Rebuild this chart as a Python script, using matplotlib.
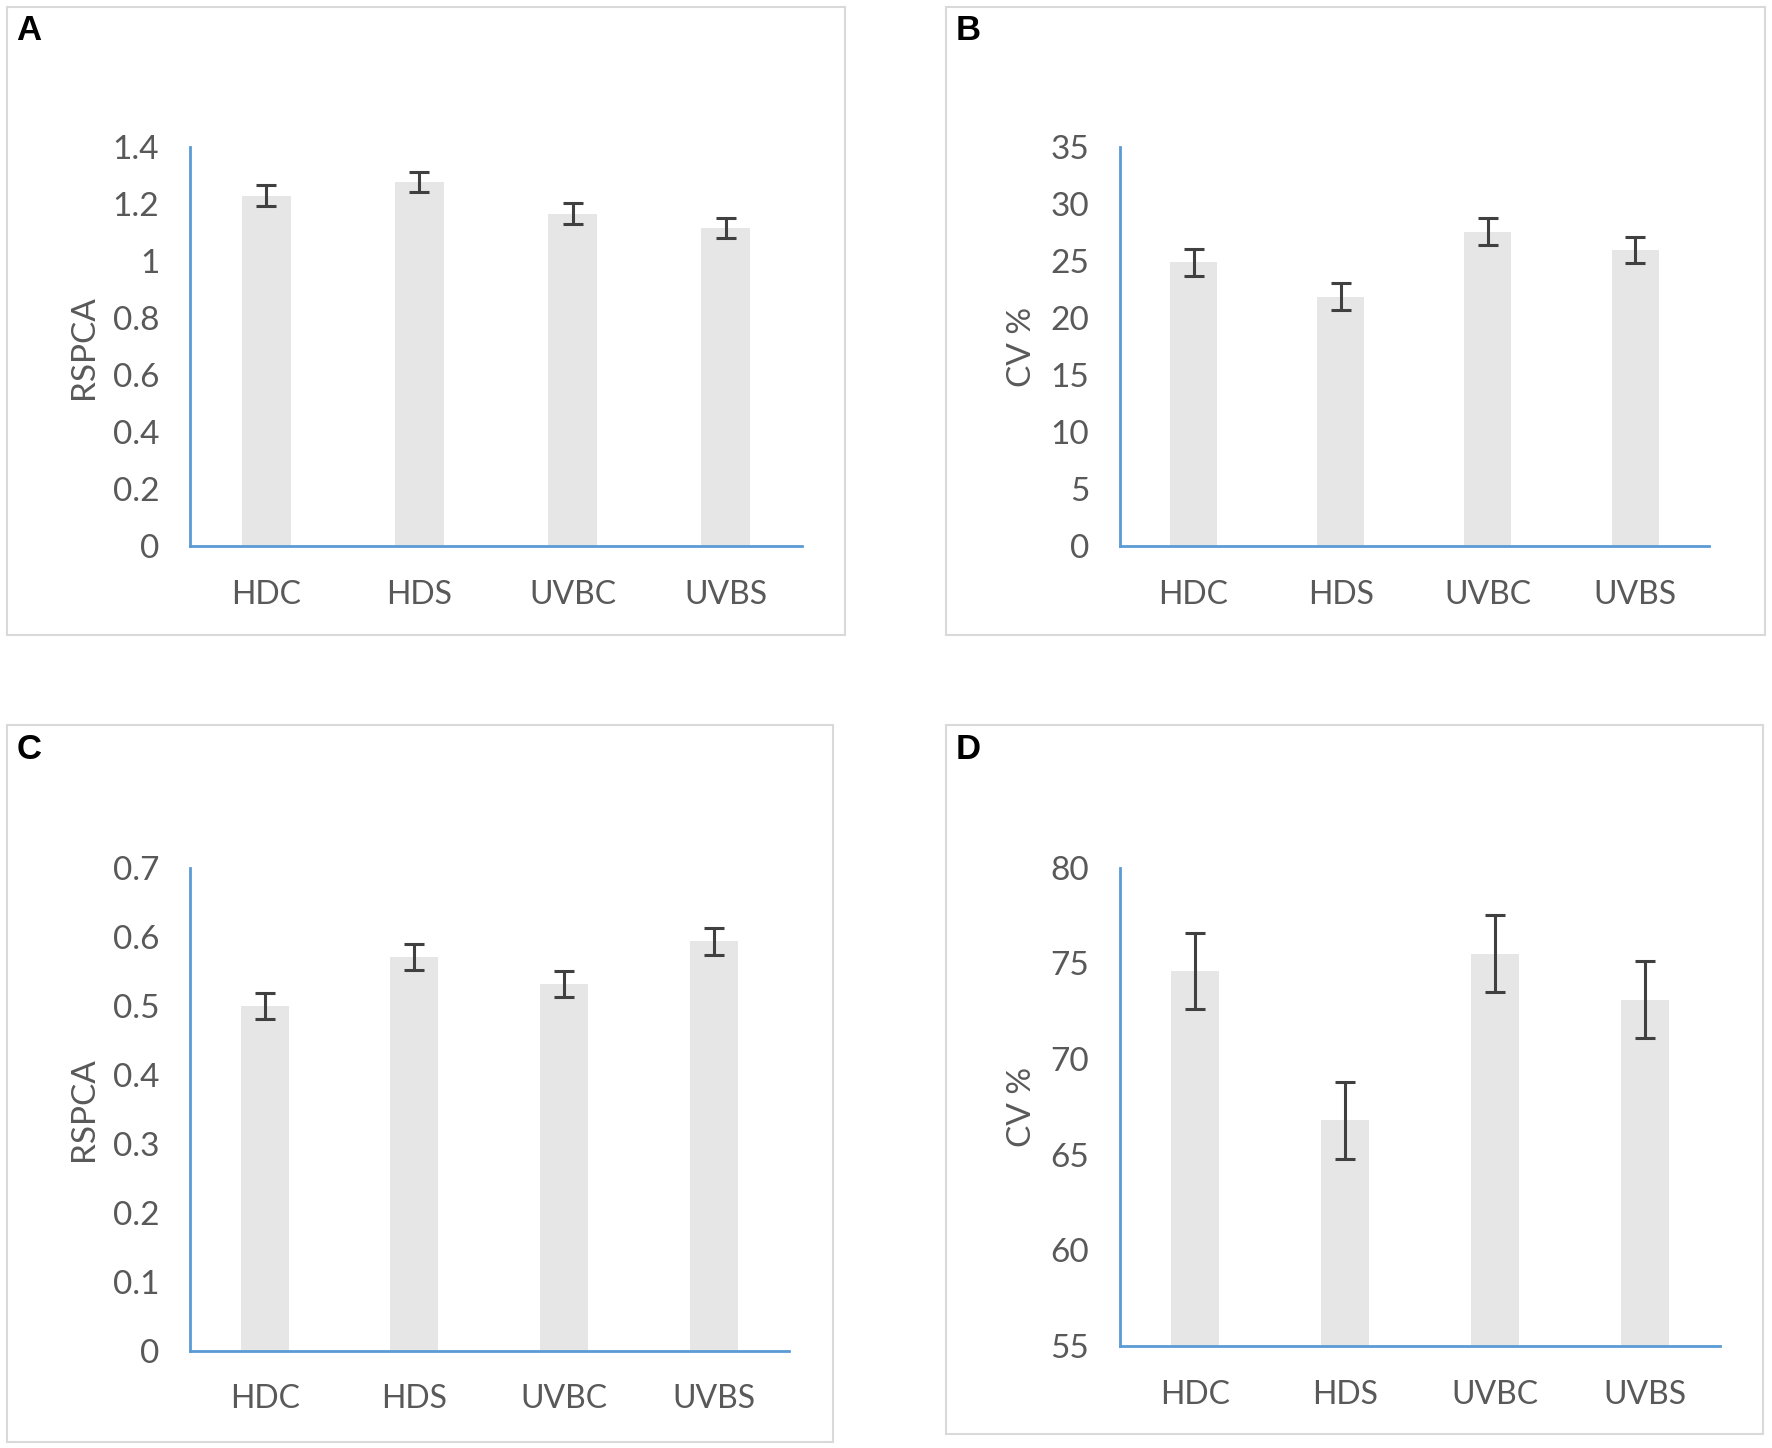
import matplotlib.pyplot as plt
from matplotlib.patches import Rectangle

# Dane
groups = ['HDC', 'HDS', 'UVBC', 'UVBS']

rspca_a = [1.23, 1.278, 1.167, 1.116]
rspca_a_err = [0.036, 0.036, 0.036, 0.035]

cv_b = [24.9, 21.9, 27.6, 26.0]
cv_b_err = [1.2, 1.2, 1.2, 1.15]

rspca_c = [0.500, 0.571, 0.531, 0.593]
rspca_c_err = [0.019, 0.019, 0.019, 0.020]

cv_d = [74.6, 66.8, 75.5, 73.1]
cv_d_err = [2.0, 2.0, 2.0, 2.0]

BAR = '#E7E6E6'
AXIS = '#5B9BD5'
TXT = '#595959'
ERR = '#404040'

plt.rcParams['font.family'] = ['Lato', 'DejaVu Sans']

fig = plt.figure(figsize=(17.72, 14.48), dpi=100)


def panel(rect, box, letter, values, errs, ylabel, ylim, yticks, ticklabels):
    # ramka panelu
    fig.patches.append(Rectangle((box[0], box[1]), box[2] - box[0], box[3] - box[1],
                                 transform=fig.transFigure, fill=False,
                                 edgecolor='#D9D9D9', linewidth=1.5))
    fig.text(box[0] + 0.0055, box[3] - 0.0165, letter, fontsize=25, fontweight='bold',
             family='Liberation Sans', ha='left', va='center')

    ax = fig.add_axes(rect)
    x = range(len(groups))
    ax.bar(x, [v - ylim[0] for v in values], bottom=ylim[0], width=0.32, color=BAR, zorder=1)
    ax.errorbar(x, values, yerr=errs, fmt='none', ecolor=ERR, elinewidth=2.2,
                capsize=7, capthick=2.2, zorder=2)
    ax.set_xlim(-0.5, 3.5)
    ax.set_ylim(*ylim)
    ax.set_yticks(yticks)
    ax.set_yticklabels(ticklabels)
    ax.set_xticks(list(x))
    ax.set_xticklabels(groups)
    ax.tick_params(axis='both', length=0, labelsize=24, labelcolor=TXT)
    ax.tick_params(axis='x', labelsize=23)
    ax.tick_params(axis='y', pad=22)
    ax.tick_params(axis='x', pad=24)
    ax.set_ylabel(ylabel, fontsize=24, color=TXT, labelpad=10)
    for s in ['top', 'right']:
        ax.spines[s].set_visible(False)
    for s in ['left', 'bottom']:
        ax.spines[s].set_color(AXIS)
        ax.spines[s].set_linewidth(2)
    ax.set_facecolor('none')
    return ax


panel([0.1071, 0.6227, 0.3457, 0.2757], (0.0038, 0.5617, 0.477, 0.9953), 'A',
      rspca_a, rspca_a_err, 'RSPCA', (0, 1.4),
      [0, 0.2, 0.4, 0.6, 0.8, 1.0, 1.2, 1.4],
      ['0', '0.2', '0.4', '0.6', '0.8', '1', '1.2', '1.4'])

panel([0.632, 0.6227, 0.3323, 0.2757], (0.5338, 0.5617, 0.9962, 0.9953), 'B',
      cv_b, cv_b_err, 'CV %', (0, 35),
      [0, 5, 10, 15, 20, 25, 30, 35],
      ['0', '5', '10', '15', '20', '25', '30', '35'])

panel([0.1071, 0.0672, 0.3381, 0.3336], (0.0038, 0.0039, 0.47, 0.4992), 'C',
      rspca_c, rspca_c_err, 'RSPCA', (0, 0.7),
      [0, 0.1, 0.2, 0.3, 0.4, 0.5, 0.6, 0.7],
      ['0', '0.1', '0.2', '0.3', '0.4', '0.5', '0.6', '0.7'])

panel([0.632, 0.0703, 0.3387, 0.3305], (0.5338, 0.0094, 0.9949, 0.4992), 'D',
      cv_d, cv_d_err, 'CV %', (55, 80),
      [55, 60, 65, 70, 75, 80],
      ['55', '60', '65', '70', '75', '80'])

fig.savefig('out.png', dpi=100, facecolor='white')
